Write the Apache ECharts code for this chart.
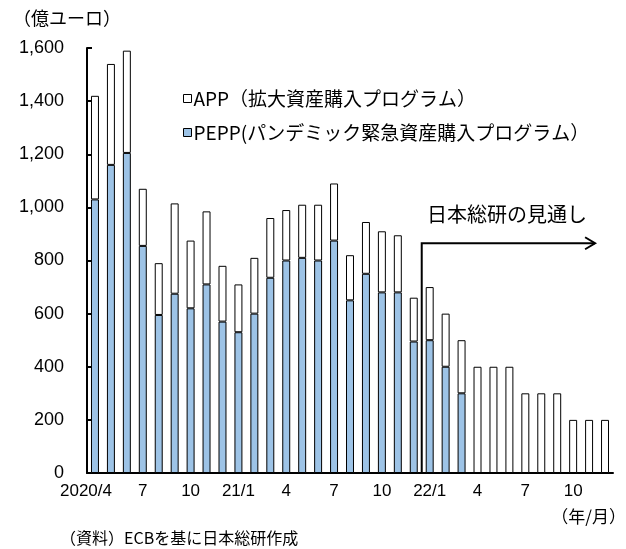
<!DOCTYPE html>
<html>
<head>
<meta charset="utf-8">
<script src="https://cdn.jsdelivr.net/npm/echarts@6/dist/echarts.min.js"></script>
<style>
html, body { margin: 0; padding: 0; background: #fff; }
#main { width: 626px; height: 549px; }
</style>
</head>
<body>
<div id="main"></div>
<script>
// 月ラベル (2020/4 ～ 2022/12)
var months = ['2020/4', '5', '6', '7', '8', '9', '10', '11', '12',
    '21/1', '2', '3', '4', '5', '6', '7', '8', '9', '10', '11', '12',
    '22/1', '2', '3', '4', '5', '6', '7', '8', '9', '10', '11', '12'];
// PEPP 購入額 (億ユーロ)
var pepp = [1030, 1160, 1205, 855, 595, 675, 620, 710, 570,
    530, 600, 735, 800, 810, 800, 875, 650, 750, 680, 680, 495,
    500, 400, 300, null, null, null, null, null, null, null, null, null];
// APP 購入額 (億ユーロ)
var app = [390, 380, 385, 215, 195, 340, 255, 275, 210,
    180, 210, 225, 190, 200, 210, 215, 170, 195, 230, 215, 165,
    200, 200, 200, 400, 400, 400, 300, 300, 300, 200, 200, 200];
var forecastLevel = 865;   // 見通し矢印の高さ

var FONT = '"Liberation Sans", "Noto Sans CJK JP", sans-serif';
var JP = '"Noto Sans CJK JP", sans-serif';
var appName = 'APP（拡大資産購入プログラム）';
var peppName = 'PEPP(パンデミック緊急資産購入プログラム）';

var chart = echarts.init(document.getElementById('main'));
var option = {
    animation: false,
    textStyle: { fontFamily: FONT, color: '#000' },
    grid: { left: 87, right: 13, top: 48, bottom: 76 },
    legend: {
        orient: 'vertical',
        left: 178, top: 84,
        itemGap: 15,
        itemWidth: 8, itemHeight: 8,
        icon: 'rect',
        data: [
            { name: appName, itemStyle: { color: '#fff', borderColor: '#000', borderWidth: 1 } },
            { name: peppName, itemStyle: { color: '#9DC3E6', borderColor: '#000', borderWidth: 1 } }
        ],
        textStyle: { fontFamily: JP, fontSize: 19, color: '#000', padding: [0, 0, 0, -3] }
    },
    xAxis: {
        type: 'category',
        data: months,
        axisLine: { lineStyle: { color: '#000', width: 2 } },
        axisTick: { interval: 2, length: 6, lineStyle: { color: '#000', width: 2 } },
        axisLabel: {
            interval: 2, margin: 10, fontSize: 17, color: '#000',
            formatter: function (v, i) {
                return i === 0 ? '{a|' + v + '}' : v;
            },
            rich: { a: { fontSize: 17, fontFamily: FONT, color: '#000', padding: [0, 18, 0, 0] } }
        }
    },
    yAxis: {
        type: 'value',
        min: 0, max: 1600, interval: 200,
        axisLine: { show: true, lineStyle: { color: '#000', width: 2 } },
        axisTick: { show: true, inside: true, length: 5, lineStyle: { color: '#000', width: 2 } },
        splitLine: { show: false },
        axisLabel: {
            fontSize: 18, color: '#000', margin: 23,
            formatter: function (v) { return v.toLocaleString('en-US'); }
        }
    },
    series: [
        {
            name: peppName, type: 'bar', stack: 'total',
            barWidth: '50%',
            data: pepp,
            itemStyle: { color: '#9DC3E6', borderColor: '#000', borderWidth: 1 }
        },
        {
            name: appName, type: 'bar', stack: 'total',
            barWidth: '50%',
            data: app,
            itemStyle: { color: '#fff', borderColor: '#000', borderWidth: 1 }
        }
    ]
};
chart.setOption(option);

// 見通しの矢印・注記
var xa = chart.convertToPixel({ xAxisIndex: 0 }, 20);
var xb = chart.convertToPixel({ xAxisIndex: 0 }, 21);
var xv = (xa + xb) / 2;
var xe = chart.convertToPixel({ xAxisIndex: 0 }, 31) + 6;
var yl = chart.convertToPixel({ yAxisIndex: 0 }, forecastLevel);
var y0 = chart.convertToPixel({ yAxisIndex: 0 }, 0);

chart.setOption({
    graphic: [
        { type: 'text', left: 13, top: 9, style: { text: '（億ユーロ）', font: '18px ' + JP, fill: '#000' } },
        { type: 'polyline', shape: { points: [[xv, y0], [xv, yl], [xe, yl]] },
          style: { stroke: '#000', lineWidth: 2, fill: null }, z: 10 },
        { type: 'polyline', shape: { points: [[xe - 10, yl - 6], [xe, yl], [xe - 10, yl + 6]] },
          style: { stroke: '#000', lineWidth: 2, fill: null }, z: 10 },
        { type: 'text', x: 427, y: 214, style: { text: '日本総研の見通し', font: '20px ' + JP, fill: '#000', verticalAlign: 'middle' } },
        { type: 'text', right: 0, top: 508, style: { text: '（年/月）', font: '17px ' + JP, fill: '#000' } },
        { type: 'text', left: 60, top: 530, style: { text: '（資料）ECBを基に日本総研作成', font: '16px ' + JP, fill: '#000' } }
    ]
});
</script>
</body>
</html>
